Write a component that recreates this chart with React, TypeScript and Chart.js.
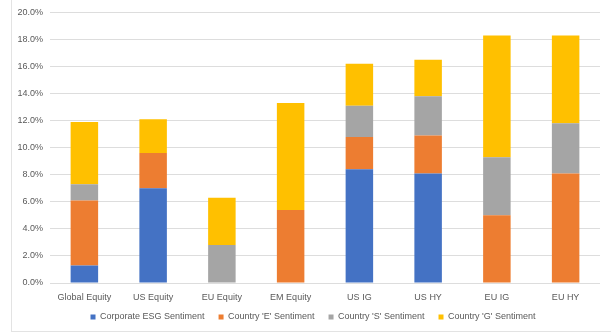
import React, { useEffect, useRef } from "react";
import { Chart, registerables } from "chart.js";

Chart.register(...registerables);

const categories = ["Global Equity", "US Equity", "EU Equity", "EM Equity", "US IG", "US HY", "EU IG", "EU HY"];
const corporateESG = [1.3, 7.0, 0, 0, 8.4, 8.1, 0, 0];
const countryE = [4.8, 2.6, 0, 5.4, 2.4, 2.8, 5.0, 8.1];
const countryS = [1.2, 0, 2.8, 0, 2.3, 2.9, 4.3, 3.7];
const countryG = [4.6, 2.5, 3.5, 7.9, 3.1, 2.7, 9.0, 6.5];
const seriesNames = ["Corporate ESG Sentiment", "Country 'E' Sentiment", "Country 'S' Sentiment", "Country 'G' Sentiment"];
const seriesColors = ["#4472C4", "#ED7D31", "#A5A5A5", "#FFC000"];

const LEGEND_PAD = 14;
const LEGEND_H = 27;
const LEGEND_SHIFT_Y = 6.5;
const LEGEND_SHIFT_X = 13;

const legendHeightPlugin = {
  id: "legendHeight",
  beforeLayout(chart: any) {
    const lg = chart.legend;
    if (lg && !lg.__patched) {
      const origFit = lg.fit.bind(lg);
      lg.fit = function () {
        origFit();
        this.height = LEGEND_H;
      };
      const origDraw = lg.draw.bind(lg);
      lg.draw = function (...args: any[]) {
        const t = this.top, l = this.left, r = this.right;
        this.top = t - LEGEND_SHIFT_Y;
        this.left = l + LEGEND_SHIFT_X;
        this.right = r + LEGEND_SHIFT_X;
        origDraw(...args);
        this.top = t;
        this.left = l;
        this.right = r;
      };
      lg.__patched = true;
    }
  },
};

export default function App() {
  const ref = useRef<HTMLCanvasElement>(null);
  useEffect(() => {
    const values = [corporateESG, countryE, countryS, countryG];
    const font = { family: "'Liberation Sans', Arial, sans-serif", size: 9 };
    const chart = new Chart(ref.current!, {
      type: "bar",
      data: {
        labels: categories,
        datasets: values.map((v, i) => ({
          label: seriesNames[i],
          data: v,
          backgroundColor: seriesColors[i],
          borderWidth: 0,
          barPercentage: 0.4,
          categoryPercentage: 1,
        })),
      },
      options: {
        animation: false,
        responsive: false,
        maintainAspectRatio: false,
        layout: { padding: { left: 0, right: 11, top: 10, bottom: 0 } },
        plugins: {
          legend: {
            position: "bottom",
            labels: {
              boxWidth: 5,
              boxHeight: 5,
              padding: LEGEND_PAD,
              color: "#595959",
              font,
            },
          },
          tooltip: { enabled: false },
        },
        scales: {
          x: {
            stacked: true,
            grid: { display: false, drawTicks: false },
            border: { display: false },
            ticks: { color: "#595959", font, padding: 9, maxRotation: 0, autoSkip: false },
            afterFit: (s: any) => { s.height = 22; },
          },
          y: {
            stacked: true,
            min: 0,
            max: 20,
            grid: { color: "#DDDDDD", lineWidth: 1, drawTicks: false },
            border: { display: false },
            ticks: {
              stepSize: 2,
              color: "#595959",
              font,
              padding: 7,
              callback: (v: any) => Number(v).toFixed(1) + "%",
            },
            afterFit: (s: any) => { s.width = 50; },
          },
        },
      },
      plugins: [legendHeightPlugin],
    });
    return () => chart.destroy();
  }, []);
  return (
    <div style={{ position: "fixed", left: 0, top: 0, width: 611, height: 332, background: "#fff" }}>
      <div style={{ position: "absolute", left: 11, top: 0, width: 600, height: 331, borderLeft: "1px solid #E3E3E3", borderBottom: "1px solid #E3E3E3" }} />
      <canvas ref={ref} width={611} height={332} style={{ position: "absolute", left: 0, top: 0, width: 611, height: 332 }} />
    </div>
  );
}
